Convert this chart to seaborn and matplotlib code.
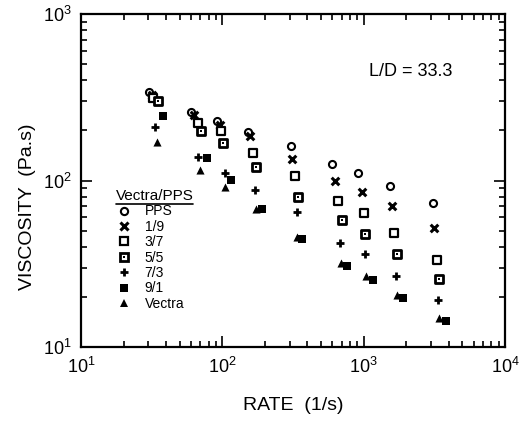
import numpy as np
import pandas as pd
import seaborn as sns
import matplotlib.pyplot as plt
from matplotlib.lines import Line2D
from matplotlib.legend_handler import HandlerTuple

# shear rate (1/s) and viscosity (Pa.s) for each Vectra/PPS blend
rate_pps = [30.3, 59.6, 91.3, 153, 305, 600, 917, 1538, 3097]
visc_pps = [340, 258, 229, 195, 161, 126, 111, 93.3, 73.6]

rate_19 = [31.8, 63.1, 96.3, 158, 310, 628, 970, 1581, 3133]
visc_19 = [328, 246, 215, 186, 135, 99.7, 85.7, 70.0, 51.9]

rate_37 = [32.5, 67.3, 97.9, 166, 327, 662, 1007, 1633, 3289]
visc_37 = [312, 221, 199, 146, 106, 75.7, 63.5, 48.6, 33.3]

rate_55 = [35.2, 70.1, 101.6, 172, 344, 700, 1023, 1731, 3420]
visc_55 = [301, 198, 167, 120.5, 80, 58, 47.7, 36.1, 25.7]

rate_73 = [33.4, 67.6, 104.5, 169, 338, 681, 1023, 1694, 3343]
visc_73 = [210, 138, 111, 87.3, 64.5, 42.3, 36.2, 26.7, 19.2]

rate_91 = [38.2, 77.6, 115.3, 191, 366, 759, 1159, 1910, 3800]
visc_91 = [245, 136, 100.7, 67.4, 44.7, 30.6, 25.2, 19.6, 14.3]

rate_vectra = [34.7, 69.5, 104.5, 172, 340, 692, 1040, 1722, 3434]
visc_vectra = [170, 115, 91, 67.4, 45.8, 31.8, 26.7, 20.5, 14.9]

blend_labels = ['PPS', '1/9', '3/7', '5/5', '7/3', '9/1', 'Vectra']

frames = []
for lab, r, v in zip(blend_labels,
                     [rate_pps, rate_19, rate_37, rate_55, rate_73, rate_91, rate_vectra],
                     [visc_pps, visc_19, visc_37, visc_55, visc_73, visc_91, visc_vectra]):
    frames.append(pd.DataFrame({'blend': lab, 'rate': r, 'viscosity': v}))
df = pd.concat(frames, ignore_index=True)

sns.set_style("ticks", {'axes.edgecolor': 'black', 'xtick.color': 'black',
                        'ytick.color': 'black', 'text.color': 'black',
                        'axes.labelcolor': 'black'})
plt.rcParams['font.family'] = ['Liberation Sans', 'DejaVu Sans']
plt.rcParams['mathtext.fontset'] = 'custom'
plt.rcParams['mathtext.rm'] = 'Liberation Sans'

fig = plt.figure(figsize=(5.26, 4.34), dpi=100)
ax = fig.add_axes([81 / 526, 1 - 347 / 434, 424 / 526, 333 / 434])

# marker style per blend
styles = {
    'PPS':    dict(marker='o', s=26, facecolor='white', edgecolor='black', linewidth=1.5),
    '1/9':    dict(marker='x', s=30, color='black', linewidth=2.2),
    '3/7':    dict(marker='s', s=28, facecolor='white', edgecolor='black', linewidth=1.6),
    '5/5':    dict(marker='s', s=30, facecolor='white', edgecolor='black', linewidth=2.0),
    '7/3':    dict(marker='+', s=40, color='black', linewidth=2.0),
    '9/1':    dict(marker='s', s=34, color='black', linewidth=0),
    'Vectra': dict(marker='^', s=34, color='black', linewidth=0),
}

for lab in blend_labels:
    sub = df[df['blend'] == lab]
    sns.scatterplot(data=sub, x='rate', y='viscosity', ax=ax, legend=False,
                    zorder=3, **styles[lab])
    if lab == '5/5':
        # small dot inside the square
        sns.scatterplot(data=sub, x='rate', y='viscosity', ax=ax, legend=False,
                        marker='s', s=3, color='black', linewidth=0, zorder=4)

ax.set_xscale('log')
ax.set_yscale('log')
ax.set_xlim(10, 1e4)
ax.set_ylim(10, 1e3)

ax.tick_params(which='both', direction='in', top=True, right=True, width=1.2,
               labelsize=13, pad=7, color='black', labelcolor='black')
ax.tick_params(which='major', length=8)
ax.tick_params(which='minor', length=4)
for sp in ax.spines.values():
    sp.set_linewidth(1.6)
    sp.set_color('black')

ax.set_xlabel('RATE  (1/s)', fontsize=14, color='black')
ax.set_ylabel('VISCOSITY  (Pa.s)', fontsize=14, color='black')
ax.xaxis.set_label_coords(0.5, -0.15)
ax.yaxis.set_label_coords(-0.105, 0.42)

ax.text(0.778, 0.826, 'L/D = 33.3', transform=ax.transAxes, fontsize=13,
        ha='center', va='center', color='black')

# legend handles
def mk(marker, ms, mfc, mew):
    return Line2D([], [], ls='', marker=marker, ms=ms, mfc=mfc, mec='black',
                  mew=mew, color='black')

handles = [
    mk('o', 5.2, 'white', 1.5),
    mk('x', 5.5, 'black', 2.2),
    mk('s', 5.2, 'white', 1.6),
    (mk('s', 5.5, 'white', 2.0), mk('s', 1.7, 'black', 0)),
    mk('+', 6.3, 'black', 2.0),
    mk('s', 5.8, 'black', 0),
    mk('^', 5.8, 'black', 0),
]
leg = ax.legend(handles, blend_labels, title='Vectra/PPS', loc='upper left',
                bbox_to_anchor=(0.065, 0.495), frameon=False, fontsize=10,
                title_fontsize=11, alignment='left', handlelength=1.2,
                handletextpad=0.9, labelspacing=0.1, borderpad=0,
                handler_map={tuple: HandlerTuple(ndivide=1)})

# underline the legend title
fig.canvas.draw()
bb = leg.get_title().get_window_extent().transformed(fig.transFigure.inverted())
fig.add_artist(Line2D([bb.x0, bb.x1], [bb.y0 - 0.002, bb.y0 - 0.002],
                      transform=fig.transFigure, color='black', lw=1.2))

fig.savefig('out.png', dpi=100)
